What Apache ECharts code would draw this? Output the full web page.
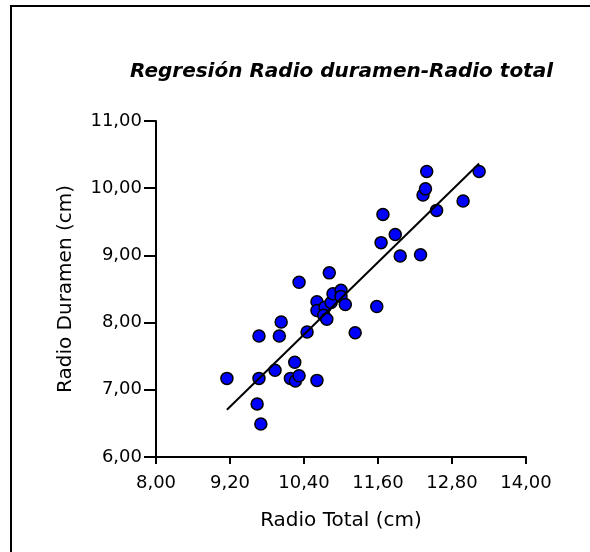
<!DOCTYPE html>
<html>
<head>
<meta charset="utf-8">
<script src="https://cdn.jsdelivr.net/npm/echarts@6/dist/echarts.min.js"></script>
<style>
html,body{margin:0;padding:0;background:#fff;}
#main{width:590px;height:552px;}
</style>
</head>
<body>
<div id="main"></div>
<script>
// Radio total (cm)
var radioTotal = [9.15, 9.64, 9.70, 9.67, 9.67, 9.93, 10.00, 10.03, 10.18, 10.25,
  10.26, 10.32, 10.32, 10.45, 10.61, 10.61, 10.61, 10.74, 10.72, 10.77,
  10.81, 10.84, 10.87, 11.00, 11.00, 11.07, 11.23, 11.58, 11.65, 11.68,
  11.88, 11.96, 12.29, 12.33, 12.37, 12.39, 12.55, 12.98, 13.24];
// Radio duramen (cm)
var radioDuramen = [7.17, 6.79, 6.49, 7.17, 7.80, 7.29, 7.80, 8.01, 7.17, 7.41,
  7.13, 7.21, 8.60, 7.86, 7.14, 8.31, 8.18, 8.23, 8.11, 8.05,
  8.74, 8.30, 8.43, 8.48, 8.39, 8.27, 7.85, 8.24, 9.19, 9.61,
  9.31, 8.99, 9.01, 9.90, 9.99, 10.25, 9.67, 9.81, 10.25];
var xTicks = [8.00, 9.20, 10.40, 11.60, 12.80, 14.00];
var yTicks = [6.00, 7.00, 8.00, 9.00, 10.00, 11.00];
var titleText = 'Regresión Radio duramen-Radio total';
var xName = 'Radio Total (cm)';
var yName = 'Radio Duramen (cm)';

var points = radioTotal.map(function (x, i) { return [x, radioDuramen[i]]; });

// least squares fit
var n = radioTotal.length, sx = 0, sy = 0, sxx = 0, sxy = 0;
for (var i = 0; i < n; i++) {
  sx += radioTotal[i]; sy += radioDuramen[i];
  sxx += radioTotal[i] * radioTotal[i]; sxy += radioTotal[i] * radioDuramen[i];
}
var slope = (n * sxy - sx * sy) / (n * sxx - sx * sx);
var intercept = (sy - slope * sx) / n;
var xmin = Math.min.apply(null, radioTotal), xmax = Math.max.apply(null, radioTotal);
var fitLine = [[xmin, intercept + slope * xmin], [xmax, intercept + slope * xmax]];

function fmt(v) { return Number(v).toFixed(2).replace('.', ','); }
var FONT = 'DejaVu Sans';

var chart = echarts.init(document.getElementById('main'), null, { renderer: 'canvas' });
chart.setOption({
  backgroundColor: '#ffffff',
  animation: false,
  title: {
    text: titleText,
    left: 125, top: 57,
    textStyle: { fontFamily: FONT, fontSize: 20, fontWeight: 'bold', fontStyle: 'italic', color: '#000' }
  },
  graphic: [{
    type: 'rect',
    shape: { x: 11, y: 6, width: 800, height: 800 },
    style: { fill: null, stroke: '#000', lineWidth: 2 },
    silent: true
  }],
  grid: { left: 156, right: 64, top: 121, bottom: 95 },
  xAxis: {
    type: 'value', min: 8, max: 14,
    name: xName, nameLocation: 'middle', nameGap: 54,
    nameTextStyle: { fontFamily: FONT, fontSize: 20, color: '#000' },
    axisLine: { show: true, onZero: false, lineStyle: { color: '#000', width: 2 } },
    axisTick: { show: true, length: 7, customValues: xTicks, lineStyle: { color: '#000', width: 2 } },
    axisLabel: { customValues: xTicks, margin: 17, formatter: fmt, fontFamily: FONT, fontSize: 18, color: '#000' },
    splitLine: { show: false }
  },
  yAxis: {
    type: 'value', min: 6, max: 11,
    name: yName, nameLocation: 'middle', nameGap: 80,
    nameTextStyle: { fontFamily: FONT, fontSize: 20, color: '#000' },
    axisLine: { show: true, onZero: false, lineStyle: { color: '#000', width: 2 } },
    axisTick: { show: true, length: 12, customValues: yTicks, lineStyle: { color: '#000', width: 2 } },
    axisLabel: { customValues: yTicks, margin: 14, formatter: fmt, fontFamily: FONT, fontSize: 18, color: '#000' },
    splitLine: { show: false }
  },
  series: [{
    type: 'line',
    data: fitLine,
    symbol: 'none',
    lineStyle: { color: '#000', width: 2 },
    z: 3
  }, {
    type: 'scatter',
    data: points,
    symbol: 'circle',
    symbolSize: 12,
    itemStyle: { color: '#0000ff', borderColor: '#000', borderWidth: 1.5, opacity: 1 },
    z: 2
  }]
});
</script>
</body>
</html>
